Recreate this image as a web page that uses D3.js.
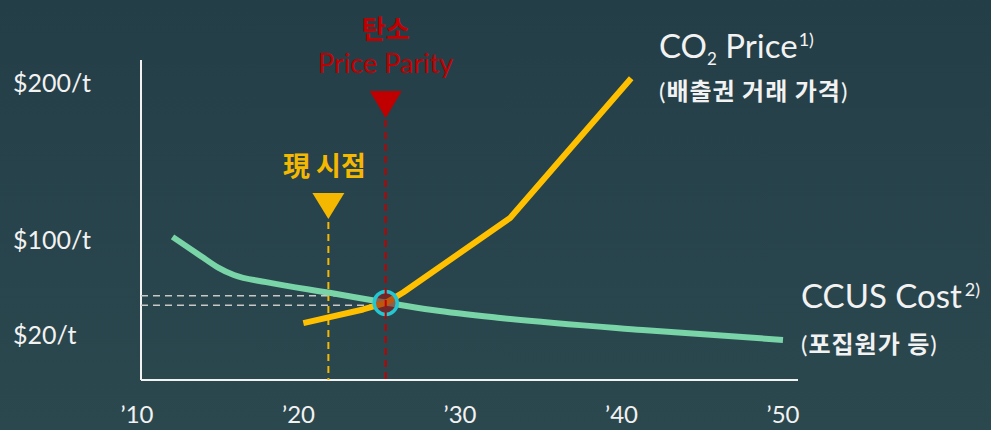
<!DOCTYPE html>
<html>
<head>
<meta charset="utf-8">
<script src="https://cdn.jsdelivr.net/npm/d3@7"></script>
<style>
  html, body { margin: 0; padding: 0; background: #274249; }
  svg { display: block; }
  text { font-family: Lato, "Noto Sans CJK KR", sans-serif; }
  .kr { font-family: "Noto Sans CJK KR", sans-serif; }
</style>
</head>
<body>
<svg id="chart" width="991" height="430"></svg>
<script>
// x: year, y: $/t (schematic)
const yearTicks = [2010, 2020, 2030, 2040, 2050];
const priceTicks = [200, 100, 20];
const priceLabels = ["$200/t", "$100/t", "$20/t"];

const ccusYears = [2012.2, 2013.9, 2015.0, 2016.0, 2018.0, 2022.1, 2025.2, 2028.3, 2032.5, 2041.3, 2050];
const ccusCost  = [102, 87, 77, 70.5, 64.5, 55.1, 47.8, 41, 34.3, 24.2, 17.8];

const co2Years = [2020.3, 2024.0, 2025.4, 2025.9, 2026.5, 2033.1, 2040.6];
const co2Price = [30, 41.5, 47, 51, 56, 114, 203];

const nowYear = 2021.85;
const parityYear = 2025.4;
const parityPrice = 47;
const nowCost = 53.1;
const parityGuide = 45;

(function() {
    const svg = d3.select("#chart");
    const W = 991, H = 430;

    const defs = svg.append("defs");
    const grad = defs.append("linearGradient")
        .attr("id", "bg").attr("x1", 0).attr("y1", 0).attr("x2", 0).attr("y2", 1);
    grad.append("stop").attr("offset", "0%").attr("stop-color", "#233e47");
    grad.append("stop").attr("offset", "100%").attr("stop-color", "#2c484f");
    svg.append("rect").attr("width", W).attr("height", H).attr("fill", "url(#bg)");

    const x = d3.scaleLinear().domain([2010, 2050]).range([137, 783]);
    // the picture uses a non-uniform (schematic) price axis
    const y = d3.scaleLinear().domain([0, 20, 100, 200]).range([380, 335, 240, 83]);

    const axisX0 = 141, axisY0 = 380;

    // axes
    svg.append("line")
        .attr("x1", axisX0).attr("x2", axisX0)
        .attr("y1", 60).attr("y2", axisY0)
        .attr("stroke", "#f2f2f2").attr("stroke-width", 2);
    svg.append("line")
        .attr("x1", axisX0).attr("x2", 798)
        .attr("y1", axisY0).attr("y2", axisY0)
        .attr("stroke", "#f2f2f2").attr("stroke-width", 2);

    // y labels
    svg.selectAll(".ylab")
        .data(priceTicks)
        .join("text")
        .attr("class", "ylab")
        .attr("x", 13)
        .attr("y", d => y(d))
        .attr("dy", "0.35em")
        .attr("fill", "#f2f2f2")
        .attr("font-size", "25px")
        .text((d, i) => priceLabels[i]);

    // x labels
    svg.selectAll(".xlab")
        .data(yearTicks)
        .join("text")
        .attr("class", "xlab")
        .attr("x", d => x(d))
        .attr("y", 423)
        .attr("text-anchor", "middle")
        .attr("fill", "#f2f2f2")
        .attr("font-size", "24px")
        .text(d => "\u2019" + String(d).slice(2));

    // gray reference dashes
    svg.append("line")
        .attr("x1", axisX0).attr("x2", x(2022.75))
        .attr("y1", y(nowCost)).attr("y2", y(nowCost))
        .attr("stroke", "#c8c8c8").attr("stroke-width", 1.5)
        .attr("stroke-dasharray", "7,5");
    svg.append("line")
        .attr("x1", axisX0).attr("x2", x(parityYear) - 12)
        .attr("y1", y(parityGuide)).attr("y2", y(parityGuide))
        .attr("stroke", "#c8c8c8").attr("stroke-width", 1.5)
        .attr("stroke-dasharray", "7,5");

    // now marker
    const nx = x(nowYear);
    svg.append("line")
        .attr("x1", nx).attr("x2", nx)
        .attr("y1", 222).attr("y2", axisY0)
        .attr("stroke", "#f5b800").attr("stroke-width", 2)
        .attr("stroke-dasharray", "7,5");
    svg.append("path")
        .attr("d", `M${nx - 16},193 L${nx + 16},193 L${nx},219 Z`)
        .attr("fill", "#f5b800");
    svg.append("text")
        .attr("class", "kr")
        .attr("x", nx - 4).attr("y", 176)
        .attr("text-anchor", "middle")
        .attr("fill", "#f5b800")
        .attr("font-size", "27px")
        .attr("font-weight", "bold")
        .text("現 시점");

    // lines
    const greenLine = d3.line().x(d => x(d[0])).y(d => y(d[1])).curve(d3.curveMonotoneX);
    const yellowLine = d3.line().x(d => x(d[0])).y(d => y(d[1]));

    svg.append("path")
        .datum(ccusYears.map((d, i) => [d, ccusCost[i]]))
        .attr("d", greenLine)
        .attr("fill", "none")
        .attr("stroke", "#79d4a8")
        .attr("stroke-width", 6);

    svg.append("path")
        .datum(co2Years.map((d, i) => [d, co2Price[i]]))
        .attr("d", yellowLine)
        .attr("fill", "none")
        .attr("stroke", "#ffc000")
        .attr("stroke-width", 6)
        .attr("stroke-linejoin", "round");

    // parity circle
    svg.append("circle")
        .attr("cx", x(parityYear)).attr("cy", y(parityPrice))
        .attr("r", 11.5)
        .attr("fill", "rgba(150,25,25,0.62)")
        .attr("stroke", "#22c7d2")
        .attr("stroke-width", 3.5);

    // parity marker
    const px = x(parityYear);
    svg.append("line")
        .attr("x1", px).attr("x2", px)
        .attr("y1", 120).attr("y2", axisY0)
        .attr("stroke", "#c00000").attr("stroke-width", 2)
        .attr("stroke-dasharray", "7,5");
    svg.append("path")
        .attr("d", `M${px - 16},91 L${px + 16},91 L${px},118 Z`)
        .attr("fill", "#c00000");
    svg.append("text")
        .attr("class", "kr")
        .attr("x", px).attr("y", 39)
        .attr("text-anchor", "middle")
        .attr("fill", "#c00000")
        .attr("font-size", "26px")
        .attr("font-weight", "bold")
        .text("탄소");
    svg.append("text")
        .attr("x", px).attr("y", 73)
        .attr("text-anchor", "middle")
        .attr("fill", "#c00000")
        .attr("font-size", "27px")
        .text("Price Parity");

    // series labels
    const co2 = svg.append("text")
        .attr("x", 659).attr("y", 58)
        .attr("fill", "#f2f2f2")
        .attr("font-size", "33px");
    co2.append("tspan").text("CO");
    co2.append("tspan").attr("font-size", "17px").attr("dy", 7).text("2");
    co2.append("tspan").attr("dy", -7).text(" Price");
    co2.append("tspan").attr("font-size", "18px").attr("dy", -12).attr("dx", 1).text("1)");

    const co2k = svg.append("text")
        .attr("x", 659).attr("y", 100)
        .attr("fill", "#f2f2f2")
        .attr("font-size", "24px")
        .attr("letter-spacing", "1px");
    co2k.append("tspan").text("(");
    co2k.append("tspan").attr("class", "kr").attr("font-weight", "bold").text("배출권 거래 가격");
    co2k.append("tspan").text(")");

    const ccus = svg.append("text")
        .attr("x", 801).attr("y", 308)
        .attr("fill", "#f2f2f2")
        .attr("font-size", "33px");
    ccus.append("tspan").text("CCUS Cost");
    ccus.append("tspan").attr("font-size", "18px").attr("dy", -12).attr("dx", 3).text("2)");

    const ccusk = svg.append("text")
        .attr("x", 801).attr("y", 353)
        .attr("fill", "#f2f2f2")
        .attr("font-size", "24px")
        .attr("letter-spacing", "1px");
    ccusk.append("tspan").text("(");
    ccusk.append("tspan").attr("class", "kr").attr("font-weight", "bold").text("포집원가 등");
    ccusk.append("tspan").text(")");
})();
</script>
</body>
</html>
